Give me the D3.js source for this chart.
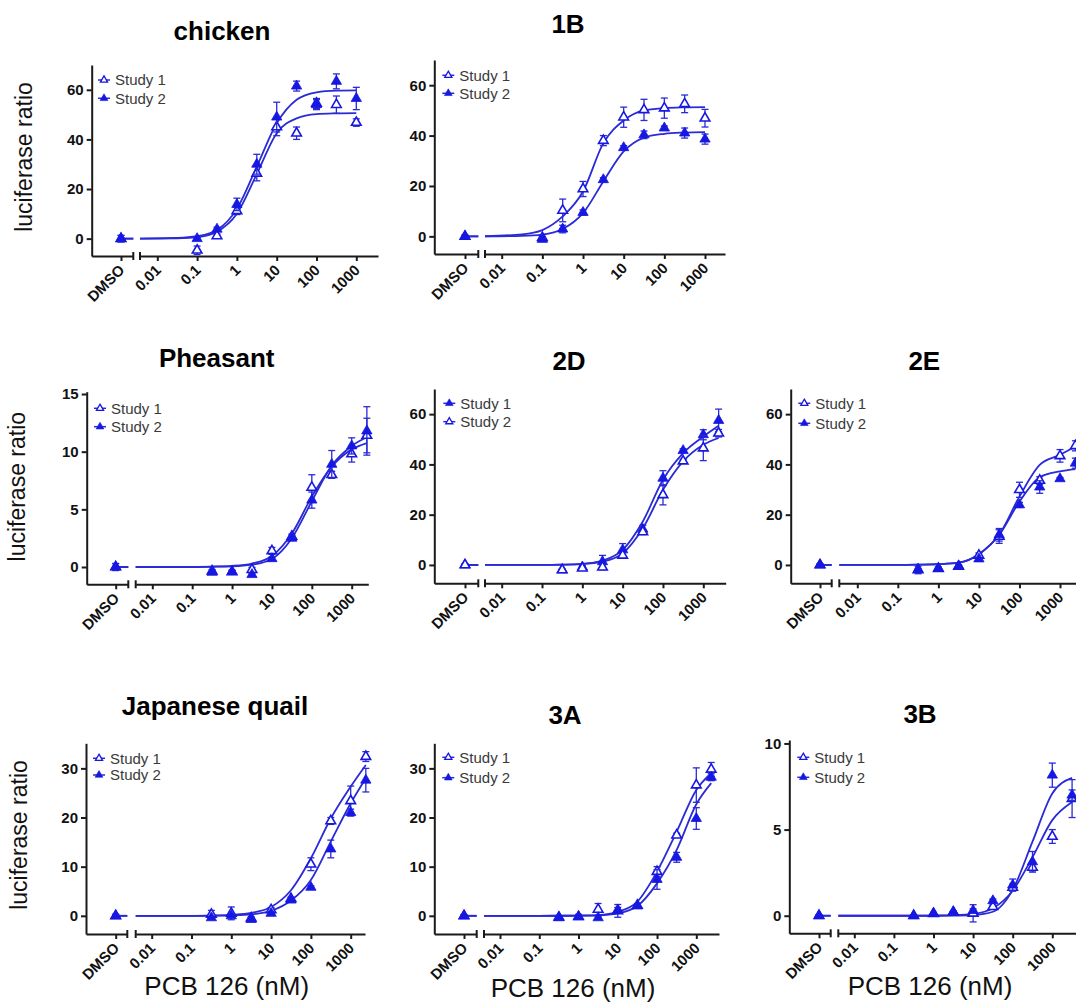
<!DOCTYPE html>
<html>
<head>
<meta charset="utf-8">
<title>PCB 126 luciferase ratio</title>
<script src="https://d3js.org/d3.v7.min.js"></script>
<style>
body { margin: 0; background: #fff; font-family: 'Liberation Sans', Arial, sans-serif; }
svg { display: block; }
.axis path, .axis line { stroke: #1a1a1a; stroke-width: 2px; }
.axis text { font-family: 'Liberation Sans', Arial, sans-serif; font-weight: bold; font-size: 15px; fill: #111; }
.title { font-weight: bold; font-size: 26px; fill: #000; }
.lab { font-size: 23px; fill: #111; }
.xlab { font-size: 26px; fill: #111; }
.leg { font-size: 15px; fill: #3a3a3a; }
</style>
</head>
<body>
<script>
// ---------- data ----------
var xTickValues = [0.01, 0.1, 1, 10, 100, 1000];
var xTickLabels = ["0.01", "0.1", "1", "10", "100", "1000"];
var seriesNames = ["Study 1", "Study 2"];

// fitted curve sample doses
var fitDoseShort = [0.003, 0.0316, 0.1, 0.316, 1, 3.16, 10, 31.6, 100, 316, 1000];
var fitDoseLong = [0.003, 0.0316, 0.1, 0.316, 1, 3.16, 10, 31.6, 100, 316, 1000, 2400];
var fitDose3B = [0.003, 0.0316, 0.1, 0.316, 1, 3.16, 10, 31.6, 100, 316, 1000, 3160];

var doseShort = [0.1, 0.316, 1, 3.16, 10, 31.6, 100, 316, 1000];
var doseLong = [0.316, 1, 3.16, 10, 31.6, 100, 316, 1000, 2400];
var dose3B = [0.316, 1, 3.16, 10, 31.6, 100, 316, 1000, 3160];

// chicken
var chickenS1 = [-4.7, 1.1, 11.2, 26.3, 45, 42.5, 54.5, 54, 46.8];
var chickenS1Err = [1.7, 0.8, 1.5, 3, 3.5, 2.5, 2, 3.5, 1.5];
var chickenS2 = [0, 3.8, 13.8, 30, 49, 61.5, 54, 63.4, 56.5];
var chickenS2Err = [0.5, 0.8, 2.5, 4, 6, 2, 2, 3, 4.5];
var chickenFit1 = [0, 0.15, 0.6, 2.8, 10, 26, 42.5, 48.5, 50.2, 50.5, 50.6];
var chickenFit2 = [0, 0.28, 1, 3.5, 12, 29, 46.5, 56, 59, 59.7, 59.8];
var chickenDmsoErr = [1.3, 1.3];

// 1B
var b1S1 = [-0.5, 10.3, 18.8, 38, 47.3, 50.2, 50.9, 52.6, 46.9];
var b1S1Err = [0.5, 4.5, 3, 2, 4, 4.2, 4, 3.5, 3.5];
var b1S2 = [-1.2, 2.9, 9.5, 22.5, 35.2, 40.3, 43, 41, 38.6];
var b1S2Err = [0.8, 1.5, 1, 0.8, 0.8, 1.5, 0.8, 2, 2];
var b1Fit1 = [0, 0.8, 2.5, 7.9, 17.8, 37, 46, 50, 50.9, 51.2, 51.3];
var b1Fit2 = [0, 0.2, 0.7, 2.9, 9.2, 21.8, 33.7, 39.2, 40.7, 41.2, 41.4];
var b1DmsoErr = [0.5, 0.5];

// Pheasant
var pheasantS1 = [-0.37, -0.43, -0.23, 1.4, 2.65, 6.9, 8.0, 9.8, 11.4];
var pheasantS1Err = [0.15, 0.15, 0.2, 0.3, 0.2, 1.1, 0.3, 0.7, 1.5];
var pheasantS2 = [-0.46, -0.4, -0.66, 0.72, 2.5, 5.8, 8.9, 10.5, 11.8];
var pheasantS2Err = [0.1, 0.1, 0.1, 0.15, 0.2, 0.7, 1.2, 0.7, 2.1];
var pheasantFit1 = [0, 0, 0.01, 0.04, 0.1, 0.3, 0.95, 2.9, 6.1, 8.7, 10.2, 10.75];
var pheasantFit2 = [0, 0, 0, 0.02, 0.05, 0.2, 0.7, 2.5, 5.7, 8.8, 10.5, 11.25];
var pheasantDmsoErr = [0.3, 0.3];

// 2D
var d2S1 = [-2, -0.8, 1.3, 6, 14.2, 34.5, 45.5, 51.8, 57.5];
var d2S1Err = [0.3, 0.5, 2.5, 2.5, 1.5, 3, 0.7, 2, 4.5];
var d2S2 = [-2, -1.3, -0.9, 3.8, 13.1, 27.9, 41.3, 46.5, 52.4];
var d2S2Err = [0.3, 0.8, 1, 1, 1, 4, 0.7, 5, 1.5];
var d2Fit1 = [0, 0, 0, 0.1, 0.4, 1.7, 6, 17.3, 33.9, 44.5, 51.1, 55.4];
var d2Fit2 = [0, 0, 0, 0.1, 0.4, 1.3, 4.6, 14.6, 29.9, 41.2, 47.8, 50.5];
var d2DmsoErr = [0.4, 0.4];

// 2E
var e2S1 = [-2, -1.5, -0.6, 3.8, 11.3, 29.9, 33.6, 43.4, 47.4];
var e2S1Err = [1.5, 0.5, 0.5, 1, 2.7, 3, 1.5, 2.5, 2];
var e2S2 = [-1.8, -1.3, -0.4, 2.4, 12, 23.9, 31, 34.3, 40.5];
var e2S2Err = [0.4, 0.5, 0.4, 0.4, 2.5, 1, 2.5, 0.5, 2];
var e2Fit1 = [0, 0, 0, 0.1, 0.3, 0.9, 4.4, 12, 27.2, 39.8, 43.8, 47.1];
var e2Fit2 = [0, 0, 0, 0.1, 0.3, 0.9, 4.2, 12, 25.2, 34.9, 37.2, 38.1];
var e2DmsoErr = [0.4, 0.4];

// Japanese quail
var quailS1 = [0.3, 0.5, -0.5, 1.2, 3.5, 10.5, 19.3, 23.4, 32.4];
var quailS1Err = [0.8, 1.3, 0.3, 0.5, 0.3, 1.3, 0.7, 3, 1];
var quailS2 = [-0.4, 0, -0.75, 0.5, 3.2, 5.8, 13.6, 21, 27.6];
var quailS2Err = [0.3, 0.3, 0.3, 0.4, 0.3, 0.3, 1.8, 0.7, 2.4];
var quailFit1 = [0, 0, 0, 0.05, 0.2, 0.6, 1.8, 5.2, 11.7, 19.8, 26.3, 30.7];
var quailFit2 = [0, 0, 0, 0.02, 0.1, 0.3, 1, 3.1, 7.3, 15.1, 22.9, 28];
var quailDmsoErr = [0.3, 0.3];

// 3A
var a3S1 = [-0.3, -0.2, 1.3, 1, 2.1, 9, 16.4, 26.6, 29.8];
var a3S1Err = [0.2, 0.5, 1.2, 1.3, 0.3, 1, 0.4, 3.5, 1.4];
var a3S2 = [-0.4, -0.2, -0.4, 1.2, 2, 7.4, 11.9, 19.8, 28.2];
var a3S2Err = [0.2, 0.2, 0.3, 0.5, 0.3, 2, 1, 2.2, 0.7];
var a3Fit1 = [0, 0, 0, 0.01, 0.05, 0.15, 0.8, 2.9, 9, 17.1, 25.6, 29];
var a3Fit2 = [0, 0, 0, 0.01, 0.03, 0.1, 0.5, 2, 6.6, 13.4, 22.7, 27];
var a3DmsoErr = [0.2, 0.2];

// 3B
var b3S1 = [0, 0.12, 0.2, 0.14, 0.52, 1.64, 2.8, 4.6, 6.8];
var b3S1Err = [0.05, 0.05, 0.05, 0.5, 0.1, 0.2, 0.2, 0.4, 1.1];
var b3S2 = [0, 0.14, 0.23, 0.3, 0.87, 1.78, 3.13, 8.16, 7];
var b3S2Err = [0.05, 0.05, 0.05, 0.1, 0.1, 0.35, 0.6, 0.7, 0.3];
var b3Fit1 = [0, 0, 0, 0, 0.01, 0.03, 0.1, 0.43, 1.45, 3.4, 5.55, 6.6];
var b3Fit2 = [0, 0, 0, 0, 0, 0.01, 0.04, 0.23, 1.5, 4.3, 7.1, 8.0];
var b3DmsoErr = [0.05, 0.05];

var yTicks60 = [0, 20, 40, 60];
var yTicks15 = [0, 5, 10, 15];
var yTicks30 = [0, 10, 20, 30];
var yTicks10 = [0, 5, 10];

var panels = [
  {title: "chicken", dose: doseShort, s1: chickenS1, e1: chickenS1Err, s2: chickenS2, e2: chickenS2Err, fitDose: fitDoseShort, f1: chickenFit1, f2: chickenFit2, dmsoErr: chickenDmsoErr, yTicks: yTicks60},
  {title: "1B", dose: doseShort, s1: b1S1, e1: b1S1Err, s2: b1S2, e2: b1S2Err, fitDose: fitDoseShort, f1: b1Fit1, f2: b1Fit2, dmsoErr: b1DmsoErr, yTicks: yTicks60},
  {title: "Pheasant", dose: doseLong, s1: pheasantS1, e1: pheasantS1Err, s2: pheasantS2, e2: pheasantS2Err, fitDose: fitDoseLong, f1: pheasantFit1, f2: pheasantFit2, dmsoErr: pheasantDmsoErr, yTicks: yTicks15},
  {title: "2D", dose: doseLong, s1: d2S1, e1: d2S1Err, s2: d2S2, e2: d2S2Err, fitDose: fitDoseLong, f1: d2Fit1, f2: d2Fit2, dmsoErr: d2DmsoErr, yTicks: yTicks60},
  {title: "2E", dose: doseLong, s1: e2S1, e1: e2S1Err, s2: e2S2, e2: e2S2Err, fitDose: fitDoseLong, f1: e2Fit1, f2: e2Fit2, dmsoErr: e2DmsoErr, yTicks: yTicks60},
  {title: "Japanese quail", dose: doseLong, s1: quailS1, e1: quailS1Err, s2: quailS2, e2: quailS2Err, fitDose: fitDoseLong, f1: quailFit1, f2: quailFit2, dmsoErr: quailDmsoErr, yTicks: yTicks30},
  {title: "3A", dose: doseLong, s1: a3S1, e1: a3S1Err, s2: a3S2, e2: a3S2Err, fitDose: fitDoseLong, f1: a3Fit1, f2: a3Fit2, dmsoErr: a3DmsoErr, yTicks: yTicks30},
  {title: "3B", dose: dose3B, s1: b3S1, e1: b3S1Err, s2: b3S2, e2: b3S2Err, fitDose: fitDose3B, f1: b3Fit1, f2: b3Fit2, dmsoErr: b3DmsoErr, yTicks: yTicks10}
];

// ---------- layout (pixel positions of each panel) ----------
var layout = [
  {ax: 91.7, top: 65, bot: 256, yMin: -7, yMax: 70, xDmso: 121, breakL: 133.3, breakR: 140, x001: 157.3, x1000: 356.3, xEnd: 378, titleX: 222, titleY: 39.5, legX: 104, legY: 80, legDy: 18.3, open: 1, yLab: [31.7, 157]},
  {ax: 434.3, top: 60, bot: 254, yMin: -7, yMax: 70, xDmso: 465, breakL: 478.3, breakR: 485, x001: 501.7, x1000: 705, xEnd: 725, titleX: 568, titleY: 33.3, legX: 448.3, legY: 75.3, legDy: 18, open: 1},
  {ax: 86.7, top: 391.7, bot: 584.3, yMin: -1.5, yMax: 15.2, xDmso: 115.7, breakL: 128.3, breakR: 135.7, x001: 152.3, x1000: 351.7, xEnd: 368.3, titleX: 216.7, titleY: 366.7, legX: 100, legY: 408.3, legDy: 18.4, open: 1, yLab: [25, 486.7]},
  {ax: 434.3, top: 389, bot: 583.3, yMin: -7.3, yMax: 70, xDmso: 465, breakL: 478.3, breakR: 485, x001: 501.7, x1000: 703.3, xEnd: 725.7, titleX: 569, titleY: 370, legX: 449.3, legY: 403.3, legDy: 18.4, open: 2},
  {ax: 790.7, top: 389, bot: 583.3, yMin: -7.3, yMax: 70, xDmso: 820, breakL: 831.7, breakR: 839.3, x001: 857.3, x1000: 1060, xEnd: 1100, titleX: 924.3, titleY: 370, legX: 804.3, legY: 403.3, legDy: 20, open: 1},
  {ax: 86, top: 743.3, bot: 934, yMin: -3.7, yMax: 35.1, xDmso: 115.7, breakL: 127.3, breakR: 135.7, x001: 151.7, x1000: 350.7, xEnd: 365, titleX: 215, titleY: 715, legX: 99, legY: 758.3, legDy: 16.7, open: 1, yLab: [27, 835], xLab: [226.7, 994.5]},
  {ax: 434.3, top: 743.3, bot: 934, yMin: -3.7, yMax: 35.1, xDmso: 464, breakL: 476.7, breakR: 484, x001: 500, x1000: 696.3, xEnd: 719, titleX: 565, titleY: 724, legX: 448.3, legY: 757.3, legDy: 20.4, open: 1, xLab: [573, 996.7]},
  {ax: 789.3, top: 740, bot: 933.3, yMin: -1.02, yMax: 10.2, xDmso: 819, breakL: 830.7, breakR: 838.3, x001: 854.3, x1000: 1052.3, xEnd: 1100, titleX: 920, titleY: 723, legX: 803.3, legY: 757.3, legDy: 20, open: 1, xLab: [930, 995]}
];

var lineColor = "#2a2ad6";
var markColor = "#1717e2";

var svg = d3.select("body").append("svg").attr("width", 1076).attr("height", 1003);

var tri = d3.symbol().type(d3.symbolTriangle);

panels.forEach(function(p, i) {
  var L = layout[i];
  var g = svg.append("g");

  var xBase = d3.scaleLog().domain([0.01, 1000]).range([L.x001, L.x1000]);
  var x = xBase.copy().domain([xBase.invert(L.breakR), xBase.invert(L.xEnd)]).range([L.breakR, L.xEnd]);
  var xd = d3.scalePoint().domain(["DMSO"]).range([L.ax, L.breakL]).align((L.xDmso - L.ax) / (L.breakL - L.ax));
  var y = d3.scaleLinear().domain([L.yMin, L.yMax]).range([L.bot, L.top]);

  // title
  g.append("text").attr("class", "title").attr("x", L.titleX).attr("y", L.titleY)
    .attr("text-anchor", "middle").text(p.title);

  // axes
  g.append("g").attr("class", "axis").attr("transform", "translate(" + L.ax + ",0)")
    .call(d3.axisLeft(y).tickValues(p.yTicks).tickSizeOuter(0).tickSizeInner(5).tickPadding(3));

  var xaL = g.append("g").attr("class", "axis").attr("transform", "translate(0," + L.bot + ")")
    .call(d3.axisBottom(xd).tickSizeOuter(0).tickSizeInner(5));
  var xaR = g.append("g").attr("class", "axis").attr("transform", "translate(0," + L.bot + ")")
    .call(d3.axisBottom(x).tickValues(xTickValues).tickFormat(function(d, j) { return xTickLabels[j]; })
      .tickSizeOuter(0).tickSizeInner(5));

  [xaL, xaR].forEach(function(a) {
    a.selectAll("text")
      .attr("text-anchor", "end")
      .attr("y", 0).attr("x", 0).attr("dy", null)
      .attr("transform", "translate(4,15) rotate(-45)");
  });

  // axis break marks
  [L.breakL, L.breakR].forEach(function(bx) {
    g.append("line").attr("x1", bx).attr("x2", bx).attr("y1", L.bot - 4).attr("y2", L.bot + 4)
      .attr("stroke", "#1a1a1a").attr("stroke-width", 2);
  });

  // fitted curves
  var clipId = "clip" + i;
  g.append("clipPath").attr("id", clipId).append("rect")
    .attr("x", L.breakR).attr("y", L.top - 30).attr("width", L.xEnd - L.breakR + 20).attr("height", L.bot - L.top + 30);

  var line = d3.line().x(function(d) { return x(d[0]); }).y(function(d) { return y(d[1]); })
    .curve(d3.curveMonotoneX);

  [p.f1, p.f2].forEach(function(f) {
    var pts = p.fitDose.map(function(dv, k) { return [dv, f[k]]; });
    g.append("path").attr("d", line(pts)).attr("clip-path", "url(#" + clipId + ")")
      .attr("fill", "none").attr("stroke", lineColor).attr("stroke-width", 1.8);
    // short stub from DMSO to the axis break
    g.append("line").attr("x1", xd("DMSO")).attr("x2", L.breakL).attr("y1", y(f[0])).attr("y2", y(f[0]))
      .attr("stroke", lineColor).attr("stroke-width", 1.8);
  });

  // data points with error bars
  var sets = [
    {vals: p.s1, errs: p.e1, dmsoErr: p.dmsoErr[0], open: L.open === 1},
    {vals: p.s2, errs: p.e2, dmsoErr: p.dmsoErr[1], open: L.open === 2}
  ];

  sets.forEach(function(s) {
    var pts = p.dose.map(function(dv, k) { return {px: x(dv), v: s.vals[k], e: s.errs[k]}; });
    pts.unshift({px: xd("DMSO"), v: 0, e: s.dmsoErr});

    var eb = g.append("g").attr("stroke", lineColor).attr("stroke-width", 1.3).attr("fill", "none");
    pts.forEach(function(d) {
      eb.append("line").attr("x1", d.px).attr("x2", d.px).attr("y1", y(d.v - d.e)).attr("y2", y(d.v + d.e));
      eb.append("line").attr("x1", d.px - 3.5).attr("x2", d.px + 3.5).attr("y1", y(d.v + d.e)).attr("y2", y(d.v + d.e));
      eb.append("line").attr("x1", d.px - 3.5).attr("x2", d.px + 3.5).attr("y1", y(d.v - d.e)).attr("y2", y(d.v - d.e));
    });

    g.append("g").selectAll("path").data(pts).enter().append("path")
      .attr("d", tri.size(s.open ? 40 : 46)())
      .attr("transform", function(d) { return "translate(" + d.px + "," + y(d.v) + ")"; })
      .attr("fill", s.open ? "#fff" : markColor)
      .attr("stroke", markColor)
      .attr("stroke-width", s.open ? 1.6 : 0.8);
  });

  // legend
  seriesNames.forEach(function(name, k) {
    var ly = L.legY + k * L.legDy;
    var open = (k + 1) === L.open;
    g.append("line").attr("x1", L.legX - 6).attr("x2", L.legX + 6).attr("y1", ly).attr("y2", ly)
      .attr("stroke", lineColor).attr("stroke-width", 1.5);
    g.append("path").attr("d", tri.size(open ? 22 : 26)())
      .attr("transform", "translate(" + L.legX + "," + ly + ")")
      .attr("fill", open ? "#fff" : markColor).attr("stroke", markColor).attr("stroke-width", open ? 1.3 : 0.6);
    g.append("text").attr("class", "leg").attr("x", L.legX + 11).attr("y", ly).attr("dy", "0.35em").text(name);
  });

  // axis titles
  if (L.yLab) {
    g.append("text").attr("class", "lab").attr("text-anchor", "middle")
      .attr("transform", "translate(" + L.yLab[0] + "," + L.yLab[1] + ") rotate(-90)")
      .text("luciferase ratio");
  }
  if (L.xLab) {
    g.append("text").attr("class", "xlab").attr("text-anchor", "middle")
      .attr("x", L.xLab[0]).attr("y", L.xLab[1]).text("PCB 126 (nM)");
  }
});
</script>
</body>
</html>
